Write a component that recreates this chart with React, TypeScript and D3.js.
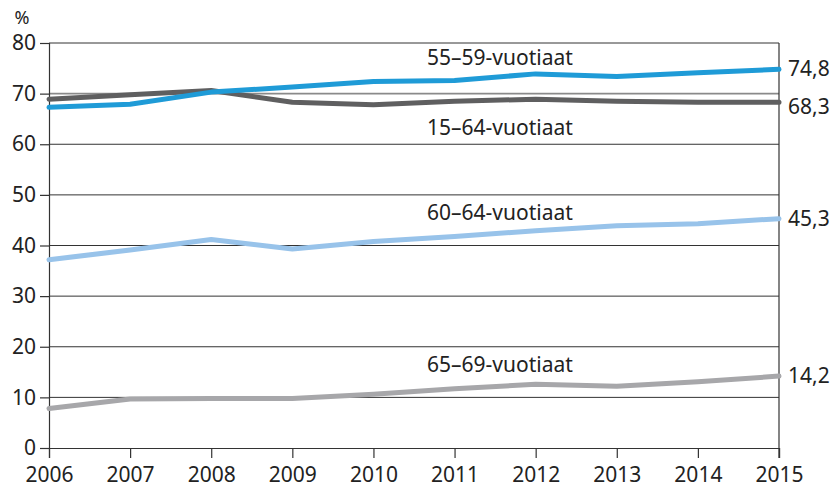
import { useEffect, useRef } from "react"
import * as d3 from "d3"

const years = [2006, 2007, 2008, 2009, 2010, 2011, 2012, 2013, 2014, 2015]
const yTicks = [0, 10, 20, 30, 40, 50, 60, 70, 80]

const age5559 = [67.3, 67.9, 70.3, 71.3, 72.4, 72.6, 73.9, 73.4, 74.1, 74.8]
const age1564 = [68.9, 69.8, 70.6, 68.3, 67.8, 68.5, 68.9, 68.5, 68.3, 68.3]
const age6064 = [37.2, 39.1, 41.2, 39.3, 40.8, 41.8, 42.9, 43.9, 44.3, 45.3]
const age6569 = [7.8, 9.7, 9.8, 9.8, 10.6, 11.7, 12.6, 12.2, 13.1, 14.2]

const seriesNames = ["15–64-vuotiaat", "55–59-vuotiaat", "60–64-vuotiaat", "65–69-vuotiaat"]
const endLabels = ["68,3", "74,8", "45,3", "14,2"]

export default function App() {
  const svgRef = useRef<SVGSVGElement>(null)

  useEffect(() => {
    if (!svgRef.current) return
    const svg = d3.select(svgRef.current)
    svg.selectAll("*").remove()

    const left = 49
    const right = 779
    const top = 43
    const bottom = 448
    const font = "'Noto Sans', 'Open Sans', sans-serif"

    const x = d3.scaleLinear().domain([2006, 2015]).range([left, right])
    const y = d3.scaleLinear().domain([0, 80]).range([bottom, top])

    // gridlines
    svg
      .append("g")
      .selectAll("line")
      .data(yTicks.filter((d) => d > 0))
      .enter()
      .append("line")
      .attr("x1", left)
      .attr("x2", right)
      .attr("y1", (d) => y(d))
      .attr("y2", (d) => y(d))
      .attr("stroke", (d) => (d === 70 ? "#8a8a8a" : "#333"))
      .attr("stroke-width", (d) => (d === 70 ? 1.6 : 1))

    // right border
    svg
      .append("line")
      .attr("x1", right)
      .attr("x2", right)
      .attr("y1", top)
      .attr("y2", bottom + 10)
      .attr("stroke", "#333")
      .attr("stroke-width", 1.2)

    // axes
    const yAxis = svg
      .append("g")
      .attr("transform", `translate(${left},0)`)
      .call(d3.axisLeft(y).tickValues(yTicks).tickSize(9).tickPadding(4))
    yAxis.select(".domain").attr("stroke", "#333").attr("stroke-width", 1.2)
    yAxis.selectAll("line").attr("stroke", "#333").attr("stroke-width", 1.2)
    yAxis
      .selectAll("text")
      .attr("font-family", font)
      .attr("font-size", 21)
      .attr("fill", "#222")

    const xAxis = svg
      .append("g")
      .attr("transform", `translate(0,${bottom})`)
      .call(
        d3
          .axisBottom(x)
          .tickValues(years)
          .tickFormat(d3.format("d"))
          .tickSize(10)
          .tickPadding(9)
      )
    xAxis.select(".domain").attr("stroke", "#333").attr("stroke-width", 1.2)
    xAxis.selectAll("line").attr("stroke", "#333").attr("stroke-width", 1.2)
    xAxis
      .selectAll("text")
      .attr("font-family", font)
      .attr("font-size", 21)
      .attr("fill", "#222")

    svg
      .append("text")
      .attr("x", 22)
      .attr("y", 24)
      .attr("font-family", font)
      .attr("font-size", 18)
      .attr("fill", "#222")
      .attr("text-anchor", "middle")
      .text("%")

    const line = d3
      .line<number>()
      .x((_, i) => x(years[i]))
      .y((d) => y(d))

    const series = [
      { values: age6569, color: "#a7a7aa" },
      { values: age6064, color: "#98c3ea" },
      { values: age1564, color: "#5f5f60" },
      { values: age5559, color: "#1f9bd7" },
    ]

    svg
      .append("g")
      .selectAll("path")
      .data(series)
      .enter()
      .append("path")
      .attr("d", (d) => line(d.values))
      .attr("fill", "none")
      .attr("stroke", (d) => d.color)
      .attr("stroke-width", 5)
      .attr("stroke-linecap", "round")
      .attr("stroke-linejoin", "round")

    // series labels
    const labelPos = [
      { name: seriesNames[1], y: 65 },
      { name: seriesNames[0], y: 135 },
      { name: seriesNames[2], y: 220 },
      { name: seriesNames[3], y: 372 },
    ]
    svg
      .append("g")
      .selectAll("text")
      .data(labelPos)
      .enter()
      .append("text")
      .attr("x", 427)
      .attr("y", (d) => d.y)
      .attr("font-family", font)
      .attr("font-size", 21)
      .attr("fill", "#222")
      .text((d) => d.name)

    // end values
    const endData = [
      { label: endLabels[1], y: y(74.8) - 1 },
      { label: endLabels[0], y: y(68.3) + 4 },
      { label: endLabels[2], y: y(45.3) },
      { label: endLabels[3], y: y(14.2) },
    ]
    svg
      .append("g")
      .selectAll("text")
      .data(endData)
      .enter()
      .append("text")
      .attr("x", 788)
      .attr("y", (d) => d.y)
      .attr("dy", "0.35em")
      .attr("font-family", font)
      .attr("font-size", 21)
      .attr("fill", "#222")
      .text((d) => d.label)
  }, [])

  return (
    <svg
      ref={svgRef}
      width={839}
      height={491}
      style={{ position: "absolute", left: 0, top: 0, background: "#fff" }}
    />
  )
}
